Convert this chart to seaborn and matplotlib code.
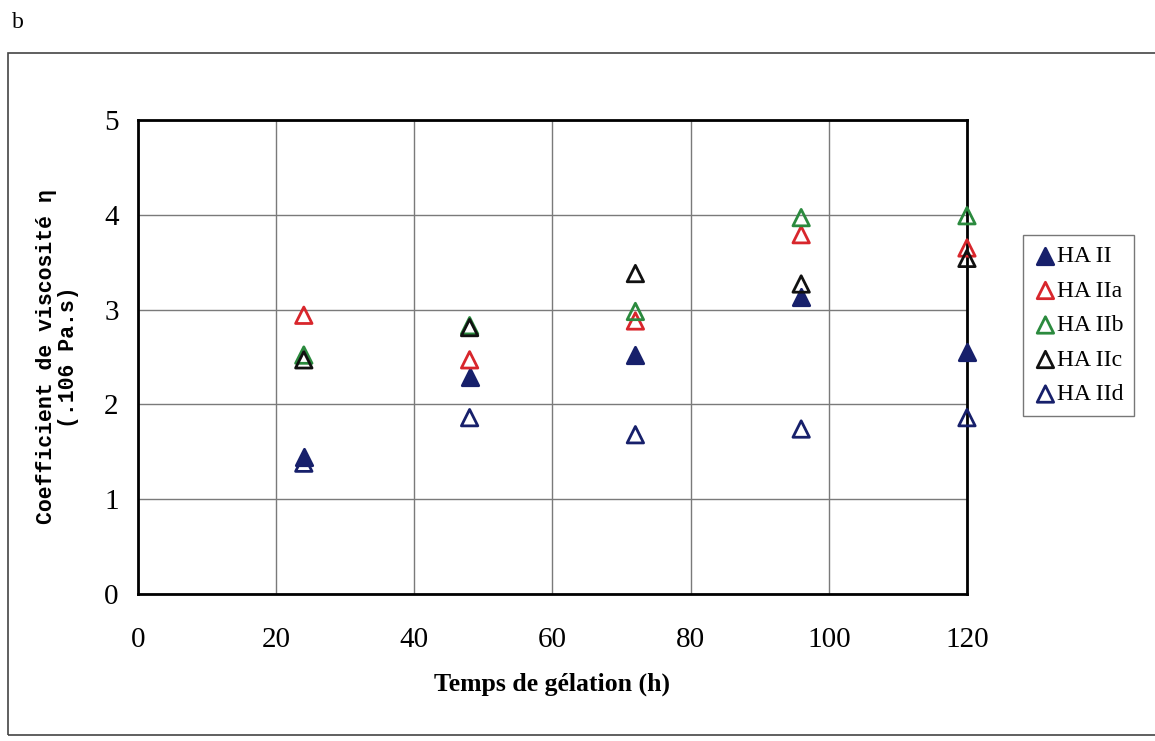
import pandas as pd
import seaborn as sns
import matplotlib.pyplot as plt
from matplotlib.patches import Rectangle

# gelation time (h)
temps = [24, 48, 72, 96, 120]

# viscosity coefficient (.10^6 Pa.s)
ha_ii = [1.45, 2.29, 2.52, 3.13, 2.55]
ha_iia = [2.94, 2.47, 2.88, 3.79, 3.65]
ha_iib = [2.52, 2.83, 2.98, 3.97, 3.99]
ha_iic = [2.47, 2.81, 3.38, 3.27, 3.54]
ha_iid = [1.38, 1.86, 1.68, 1.74, 1.86]

series = ['HA II', 'HA IIa', 'HA IIb', 'HA IIc', 'HA IId']
values = [ha_ii, ha_iia, ha_iib, ha_iic, ha_iid]
colors = ['#17206b', '#d8262c', '#2b8a3e', '#111111', '#17206b']
filled = [True, False, False, False, False]

df = pd.DataFrame({
    'temps': temps * len(series),
    'visc': sum(values, []),
    'serie': [s for s in series for _ in temps],
})

sns.set_style('white')
plt.rcParams['font.family'] = ['Liberation Serif', 'DejaVu Serif']
plt.rcParams['text.color'] = 'black'
plt.rcParams['xtick.color'] = 'black'
plt.rcParams['ytick.color'] = 'black'
plt.rcParams['axes.labelcolor'] = 'black'

fig = plt.figure(figsize=(11.55, 7.41), dpi=100)
ax = fig.add_axes([0.1195, 0.1984, 0.7177, 0.6397])

for name, col, full in zip(series, colors, filled):
    sub = df[df['serie'] == name]
    sns.scatterplot(data=sub, x='temps', y='visc', ax=ax, marker='^', s=140,
                    color=col, facecolor=col if full else 'none',
                    edgecolor=col, linewidth=2, label=name, zorder=3,
                    clip_on=False)

ax.set_xlim(0, 120)
ax.set_ylim(0, 5)
ax.set_xticks(range(0, 121, 20))
ax.set_yticks(range(0, 6))
ax.grid(True, color='#7a7a7a', linewidth=1)
ax.set_axisbelow(True)
for sp in ax.spines.values():
    sp.set_visible(True)
    sp.set_color('black')
    sp.set_linewidth(2)
ax.tick_params(axis='both', length=0, labelsize=21)
ax.tick_params(axis='x', pad=24)
ax.tick_params(axis='y', pad=14)

ax.set_xlabel('Temps de gélation (h)', fontsize=18.5, fontweight='bold', labelpad=14)
ax.set_ylabel('Coefficient de viscosité η\n(.106 Pa.s)', fontsize=15.5,
              fontweight='bold', family=['Liberation Mono', 'DejaVu Sans Mono'],
              labelpad=18, linespacing=1.05)

leg = ax.legend(loc='upper left', bbox_to_anchor=(1023 / 1155, 1 - 235 / 741),
                bbox_transform=fig.transFigure, borderaxespad=0, frameon=True,
                fancybox=False, edgecolor='#555555', fontsize=17,
                handletextpad=0.0, handlelength=1.0, labelspacing=0.55,
                borderpad=0.45, markerscale=1.0)
leg.get_frame().set_linewidth(1)

# outer frame of the scanned figure and panel letter
fig.patches.append(Rectangle((8 / 1155, 0.008), 1.05, 0.92, transform=fig.transFigure,
                             fill=False, edgecolor='#444444', linewidth=1.2))
fig.text(12 / 1155, 1 - 22 / 741, 'b', fontsize=17, va='center', ha='left')

fig.savefig('out.png', dpi=100)
